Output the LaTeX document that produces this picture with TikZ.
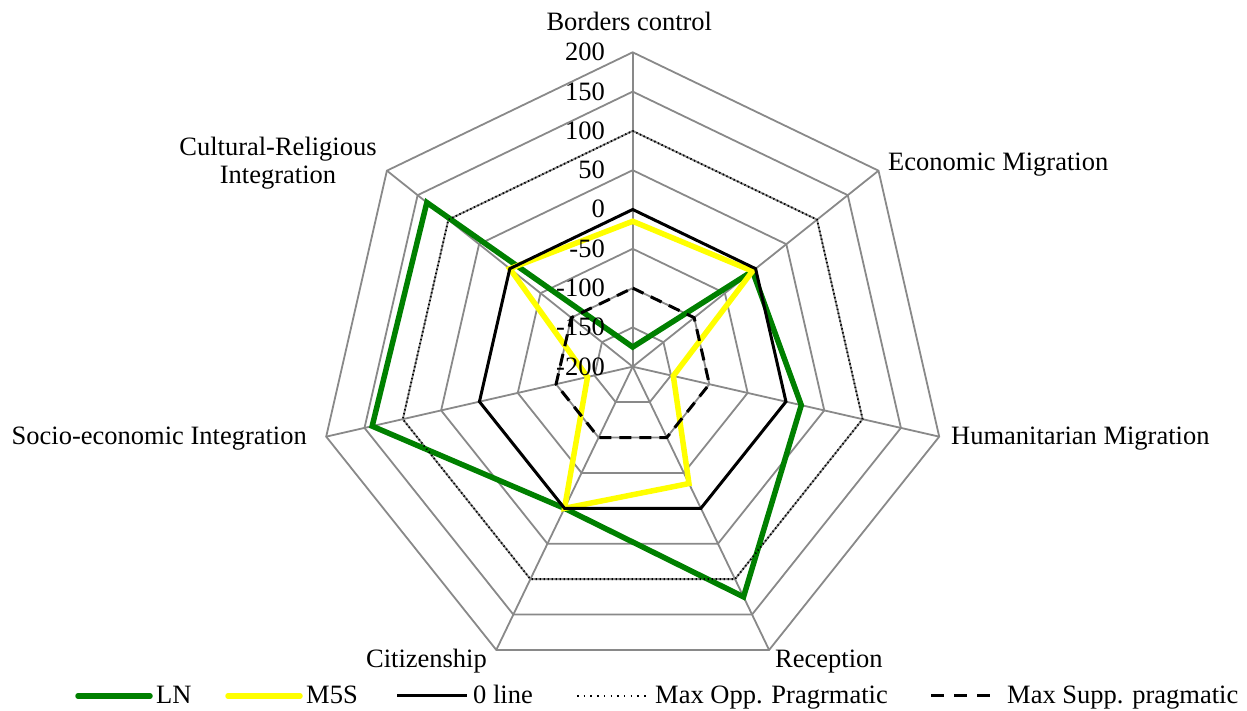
\documentclass[tikz,border=0pt]{standalone}
\usepackage{fontspec}
\setmainfont{Liberation Serif}
\definecolor{gridgray}{RGB}{137,137,137}
\definecolor{lngreen}{RGB}{0,128,0}
\definecolor{myellow}{RGB}{255,255,0}
\begin{document}
\begin{tikzpicture}[x=1pt,y=1pt,
  grid/.style={draw=gridgray,line width=1.8pt},
  zeroline/.style={draw=black,line width=3pt},
  oppline/.style={draw=black,line width=1.8pt,dash pattern=on 1.3pt off 2.7pt},
  suppline/.style={draw=black,line width=3pt,dash pattern=on 12pt off 8pt},
  lnline/.style={draw=lngreen,line width=5.5pt},
  mline/.style={draw=myellow,line width=5.5pt},
  lbl/.style={font=\fontsize{26.5}{30}\selectfont,inner sep=0pt,text=black}
]
\useasboundingbox (0,0) rectangle (1247,711);
\coordinate (c) at (632.7,344.3);
\def\stp{39.3}
% spokes
\foreach \a [count=\i] in {90,38.5714,-12.8571,-64.2857,-115.7143,-167.1429,141.4286} {
  \coordinate (o\i) at ([shift={(\a:8*\stp)}]c);
  \draw[grid] (c) -- (o\i);
}
% rings
\foreach \r in {1,...,8} {
  \draw[grid] ([shift={(90:\r*\stp)}]c)
    \foreach \a in {38.5714,-12.8571,-64.2857,-115.7143,-167.1429,141.4286} { -- ([shift={(\a:\r*\stp)}]c) } -- cycle;
}
% data coordinates
\foreach \v [count=\i] in {-175,-5,20,125,0,140,135} {
  \pgfmathsetmacro\ang{90-(\i-1)*360/7}
  \coordinate (ln\i) at ([shift={(\ang:{(\v+200)*\stp/50})}]c);
}
\foreach \v [count=\i] in {-15,-5,-147,-35,0,-141,0} {
  \pgfmathsetmacro\ang{90-(\i-1)*360/7}
  \coordinate (ms\i) at ([shift={(\ang:{(\v+200)*\stp/50})}]c);
}
\foreach \v/\nm in {0/z,100/p,-100/s} {
  \foreach \i in {1,...,7} {
    \pgfmathsetmacro\ang{90-(\i-1)*360/7}
    \coordinate (\nm\i) at ([shift={(\ang:{(\v+200)*\stp/50})}]c);
  }
}
% series
\draw[lnline] (ln1)--(ln2)--(ln3)--(ln4)--(ln5)--(ln6)--(ln7)--cycle;
\draw[mline] (ms1)--(ms2)--(ms3)--(ms4)--(ms5)--(ms6)--(ms7)--cycle;
\draw[zeroline] (z1)--(z2)--(z3)--(z4)--(z5)--(z6)--(z7)--cycle;
\draw[oppline] (p1)--(p2)--(p3)--(p4)--(p5)--(p6)--(p7)--cycle;
\draw[suppline] (s1)--(s2)--(s3)--(s4)--(s5)--(s6)--(s7)--cycle;
% scale labels
\foreach \t [count=\k from 0] in {-200,-150,-100,-50,0,50,100,150,200} {
  \node[lbl,anchor=base east] (v\k) at (605,{335.8+\k*\stp}) {\t};
}
% axis labels
\node[lbl,anchor=base] (tBorders) at (629.3,680) {Borders control};
\node[lbl,anchor=base west] (tEcon) at (888,540.3) {Economic Migration};
\node[lbl,anchor=base west] (tHum) at (951,266) {Humanitarian Migration};
\node[lbl,anchor=base west] (tRec) at (775,43) {Reception};
\node[lbl,anchor=base east] (tCit) at (487,43) {Citizenship};
\node[lbl,anchor=base east] (tSoc) at (307,266) {Socio-economic Integration};
\node[lbl,anchor=base] (tCul1) at (278,555.5) {Cultural-Religious};
\node[lbl,anchor=base] (tCul2) at (278,527) {Integration};
% legend
\coordinate (la1) at (78,15); \coordinate (la2) at (150,15);
\coordinate (lb1) at (228,15); \coordinate (lb2) at (300,15);
\coordinate (lc1) at (397,15); \coordinate (lc2) at (467,15);
\coordinate (ld1) at (577,15); \coordinate (ld2) at (646,15);
\coordinate (le1) at (931,15); \coordinate (le2) at (990,15);
\draw[lnline,line cap=round] (la1) -- (la2);
\draw[mline,line cap=round] (lb1) -- (lb2);
\draw[zeroline] (lc1) -- (lc2);
\draw[draw=black,line width=1.8pt,dash pattern=on 1.5pt off 5.2pt] (ld1) -- (ld2);
\draw[draw=black,line width=3pt,dash pattern=on 13pt off 10pt] (le1) -- (le2);
\node[lbl,anchor=base west] (gLN) at (156,7.7) {LN};
\node[lbl,anchor=base west] (gM) at (306,7.7) {M5S};
\node[lbl,anchor=base west] (gZ) at (473,7.7) {0 line};
\node[lbl,anchor=base west] (gO) at (655,7.7) {Max Opp. Pragrmatic};
\node[lbl,anchor=base west] (gS) at (1007,7.7) {Max Supp. pragmatic};
\end{tikzpicture}
\end{document}
